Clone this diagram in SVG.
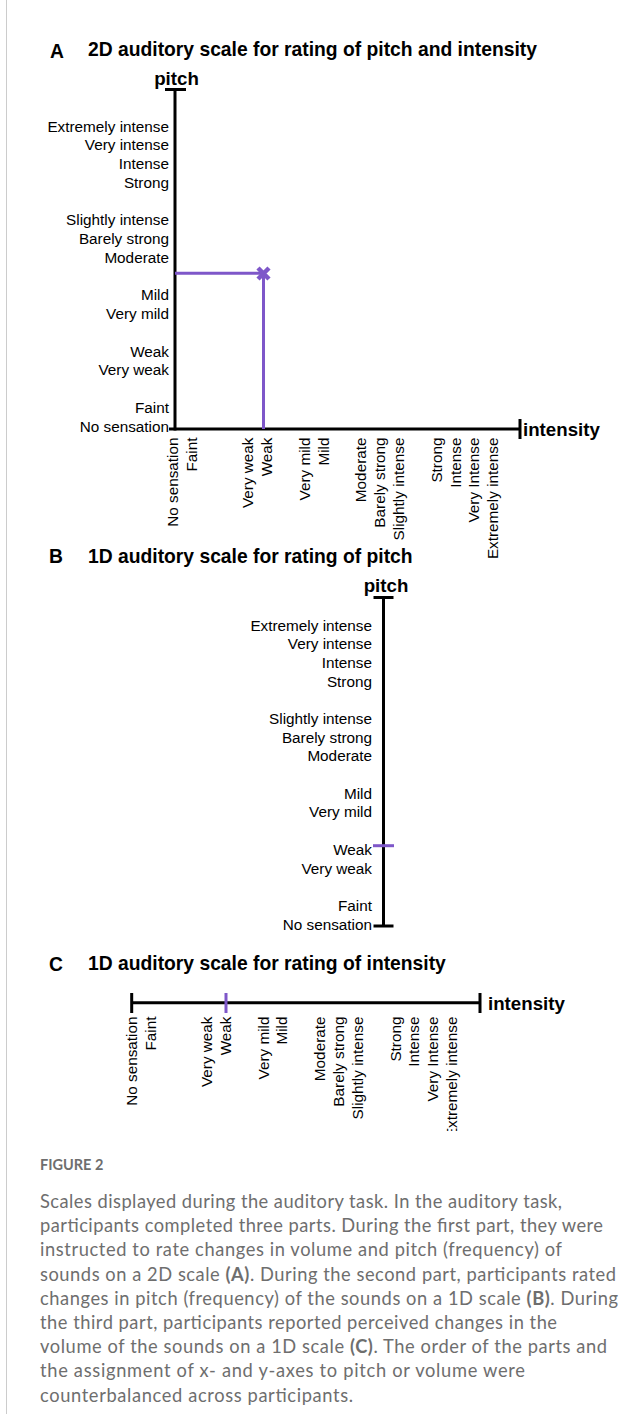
<svg xmlns="http://www.w3.org/2000/svg" width="641" height="1414" viewBox="0 0 641 1414">
<style>
.ttl{font-family:"Liberation Sans",Arial,sans-serif;font-weight:bold;font-size:19.3px;fill:#000}
.ax{font-family:"Liberation Sans",Arial,sans-serif;font-weight:bold;font-size:18.7px;fill:#000}
.lb{font-family:"Liberation Sans",Arial,sans-serif;font-size:15.3px;fill:#000}
.lr{text-anchor:end}
.axl{stroke:#000;stroke-width:3;fill:none}
.pl{stroke:#7e57c9;stroke-width:3;fill:none}
.cap{font-family:Lato,"Open Sans",sans-serif;font-size:18.3px;fill:#6e6e6e}
.fig{font-family:Lato,"Open Sans",sans-serif;font-size:14.5px;font-weight:bold;fill:#6e6e6e}
</style>
<defs>
<clipPath id="clipC"><rect x="0" y="940" width="641" height="191"/></clipPath>
</defs>
<rect width="641" height="1414" fill="#fff"/>
<line x1="6.5" y1="0" x2="6.5" y2="1414" stroke="#cccccc" stroke-width="1"/>

<g id="panelA">
<text class="ttl" x="50" y="58">A</text>
<text class="ttl" x="88" y="56">2D auditory scale for rating of pitch and intensity</text>
<text class="ax" x="176.5" y="85" text-anchor="middle">pitch</text>
<text class="ax" x="523" y="435.5">intensity</text>
<g id="A-axes">
<line class="axl" x1="175" y1="89.5" x2="175" y2="430.5"/>
<line class="axl" x1="165" y1="89.5" x2="186" y2="89.5"/>
<line class="axl" x1="169" y1="429" x2="520" y2="429"/>
<line class="axl" x1="520" y1="419" x2="520" y2="439"/>
</g>
<g id="A-ylabels" class="lb lr">
<text x="169" y="131.5">Extremely intense</text>
<text x="169" y="150.25">Very intense</text>
<text x="169" y="169">Intense</text>
<text x="169" y="187.75">Strong</text>
<text x="169" y="225.25">Slightly intense</text>
<text x="169" y="244">Barely strong</text>
<text x="169" y="262.75">Moderate</text>
<text x="169" y="300.25">Mild</text>
<text x="169" y="319">Very mild</text>
<text x="169" y="356.5">Weak</text>
<text x="169" y="375.25">Very weak</text>
<text x="169" y="412.75">Faint</text>
<text x="169" y="431.5">No sensation</text>
</g>
<g id="A-xlabels" class="lb lr">
<text transform="translate(178,437.5) rotate(-90)">No sensation</text>
<text transform="translate(196.8,437.5) rotate(-90)">Faint</text>
<text transform="translate(253.4,437.5) rotate(-90)">Very weak</text>
<text transform="translate(272.2,437.5) rotate(-90)">Weak</text>
<text transform="translate(309.9,437.5) rotate(-90)">Very mild</text>
<text transform="translate(328.7,437.5) rotate(-90)">Mild</text>
<text transform="translate(366.4,437.5) rotate(-90)">Moderate</text>
<text transform="translate(385.2,437.5) rotate(-90)">Barely strong</text>
<text transform="translate(404.1,437.5) rotate(-90)">Slightly intense</text>
<text transform="translate(441.8,437.5) rotate(-90)">Strong</text>
<text transform="translate(460.6,437.5) rotate(-90)">Intense</text>
<text transform="translate(479.4,437.5) rotate(-90)">Very Intense</text>
<text transform="translate(498.3,437.5) rotate(-90)">Extremely intense</text>
</g>
<g id="A-rating">
<line class="pl" x1="175" y1="273.3" x2="263.5" y2="273.3"/>
<line class="pl" x1="263.5" y1="273.3" x2="263.5" y2="429"/>
<path d="M258,268 L269,279 M269,268 L258,279" stroke="#7e57c9" stroke-width="4.5" fill="none"/>
</g>
</g>

<g id="panelB">
<text class="ttl" x="49" y="563">B</text>
<text class="ttl" x="88" y="562.5">1D auditory scale for rating of pitch</text>
<text class="ax" x="386" y="592" text-anchor="middle">pitch</text>
<g id="B-axes">
<line class="axl" x1="383.5" y1="597.5" x2="383.5" y2="926"/>
<line class="axl" x1="373.5" y1="597.5" x2="393.5" y2="597.5"/>
<line class="axl" x1="373.5" y1="926" x2="393.5" y2="926"/>
</g>
<g id="B-labels" class="lb lr">
<text x="372" y="630.5">Extremely intense</text>
<text x="372" y="649.2">Very intense</text>
<text x="372" y="667.9">Intense</text>
<text x="372" y="686.6">Strong</text>
<text x="372" y="723.9">Slightly intense</text>
<text x="372" y="742.6">Barely strong</text>
<text x="372" y="761.3">Moderate</text>
<text x="372" y="798.7">Mild</text>
<text x="372" y="817.4">Very mild</text>
<text x="372" y="854.8">Weak</text>
<text x="372" y="873.5">Very weak</text>
<text x="372" y="910.9">Faint</text>
<text x="372" y="929.5">No sensation</text>
</g>
<line id="B-rating" class="pl" x1="373" y1="845.7" x2="394" y2="845.7" stroke-width="3.5"/>
</g>

<g id="panelC">
<text class="ttl" x="49" y="971">C</text>
<text class="ttl" x="88" y="970">1D auditory scale for rating of intensity</text>
<text class="ax" x="488" y="1009.5">intensity</text>
<g id="C-axes">
<line class="axl" x1="131.7" y1="1002.7" x2="480" y2="1002.7"/>
<line class="axl" x1="131.7" y1="993" x2="131.7" y2="1013"/>
<line class="axl" x1="480" y1="993" x2="480" y2="1013"/>
</g>
<g id="C-labels" class="lb lr" clip-path="url(#clipC)">
<text transform="translate(136.7,1016.5) rotate(-90)">No sensation</text>
<text transform="translate(155.5,1016.5) rotate(-90)">Faint</text>
<text transform="translate(212.1,1016.5) rotate(-90)">Very weak</text>
<text transform="translate(230.9,1016.5) rotate(-90)">Weak</text>
<text transform="translate(268.6,1016.5) rotate(-90)">Very mild</text>
<text transform="translate(287.4,1016.5) rotate(-90)">Mild</text>
<text transform="translate(325.1,1016.5) rotate(-90)">Moderate</text>
<text transform="translate(343.9,1016.5) rotate(-90)">Barely strong</text>
<text transform="translate(362.8,1016.5) rotate(-90)">Slightly intense</text>
<text transform="translate(400.5,1016.5) rotate(-90)">Strong</text>
<text transform="translate(419.3,1016.5) rotate(-90)">Intense</text>
<text transform="translate(438.1,1016.5) rotate(-90)">Very Intense</text>
<text transform="translate(457,1016.5) rotate(-90)">Extremely intense</text>
</g>
<line id="C-rating" class="pl" x1="226" y1="993" x2="226" y2="1013" stroke-width="4"/>
</g>

<g id="caption">
<text class="fig" x="40" y="1170">FIGURE 2</text>
<text class="cap" x="40" y="1208" textLength="522" lengthAdjust="spacing">Scales displayed during the auditory task. In the auditory task,</text>
<text class="cap" x="40" y="1232.2" textLength="563" lengthAdjust="spacing">participants completed three parts. During the first part, they were</text>
<text class="cap" x="40" y="1256.4" textLength="522" lengthAdjust="spacing">instructed to rate changes in volume and pitch (frequency) of</text>
<text class="cap" x="40" y="1280.6" textLength="576" lengthAdjust="spacing">sounds on a 2D scale <tspan font-weight="bold">(A)</tspan>. During the second part, participants rated</text>
<text class="cap" x="40" y="1304.8" textLength="578" lengthAdjust="spacing">changes in pitch (frequency) of the sounds on a 1D scale <tspan font-weight="bold">(B)</tspan>. During</text>
<text class="cap" x="40" y="1329" textLength="517" lengthAdjust="spacing">the third part, participants reported perceived changes in the</text>
<text class="cap" x="40" y="1353.2" textLength="567" lengthAdjust="spacing">volume of the sounds on a 1D scale <tspan font-weight="bold">(C)</tspan>. The order of the parts and</text>
<text class="cap" x="40" y="1377.4" textLength="485" lengthAdjust="spacing">the assignment of x- and y-axes to pitch or volume were</text>
<text class="cap" x="40" y="1401.6" textLength="313" lengthAdjust="spacing">counterbalanced across participants.</text>
</g>
</svg>
